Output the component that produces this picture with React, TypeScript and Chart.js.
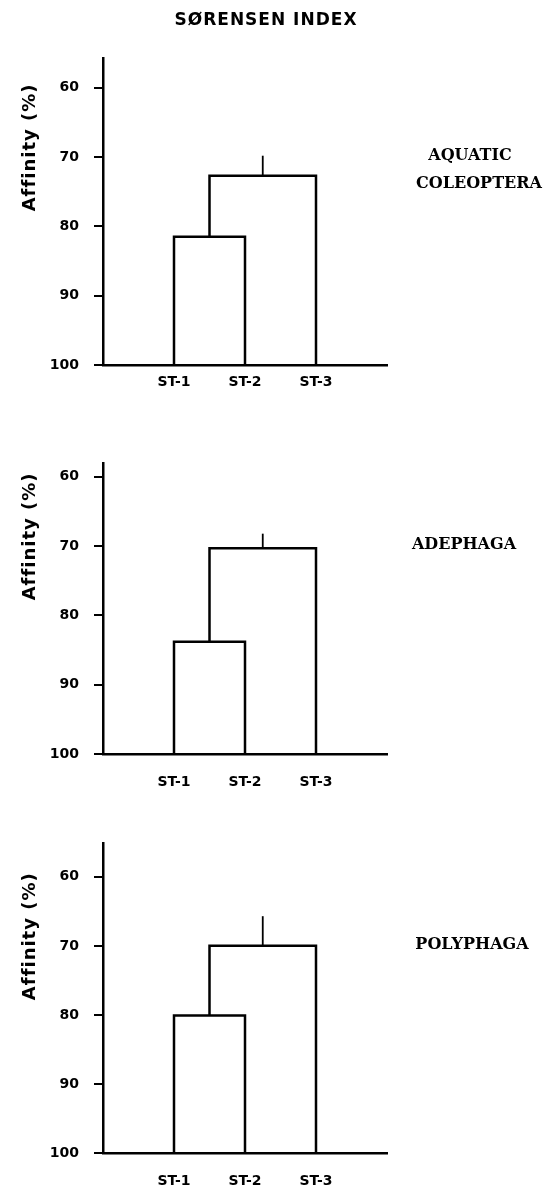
import React, { useEffect, useRef } from "react";
import { Chart, registerables } from "chart.js";

Chart.register(...registerables);

// ---- data ----
const stations = ["ST-1", "ST-2", "ST-3"];
const stationPos = [1, 2, 3];
const yTicks = [60, 70, 80, 90, 100];
const panelNames = [["AQUATIC", "COLEOPTERA"], ["ADEPHAGA"], ["POLYPHAGA"]];
const firstJoin = [81.5, 83.8, 80.1]; // ST-1 with ST-2
const secondJoin = [72.7, 70.3, 70.0]; // (ST-1,ST-2) with ST-3
const errorTop = [69.8, 68.2, 65.7]; // upper end of the deviation tick
const axisTop = [55.7, 58.0, 55.1];
const title = "SØRENSEN INDEX";
const yTitle = "Affinity (%)";

// ---- layout ----
const W = 543;
const canvasTop = [0, 399, 788];
const canvasHeight = [399, 389, 399];
const padTop = [58, 64, 55];
const xLabelPad = [1, 12, 12];
const labelCenters = [[470, 479], [464], [472]];

const textPlugin = (idx: number) => ({
  id: "texts" + idx,
  afterDraw(chart: any) {
    const ctx = chart.ctx as CanvasRenderingContext2D;
    const y = chart.scales.y;
    ctx.save();
    ctx.fillStyle = "#000";
    // y-axis title
    ctx.save();
    ctx.translate(30, y.getPixelForValue(68.6));
    ctx.rotate(-Math.PI / 2);
    ctx.font = "bold 18px 'DejaVu Sans'";
    (ctx as any).letterSpacing = "1px";
    ctx.textAlign = "center";
    ctx.textBaseline = "middle";
    ctx.fillText(yTitle, 0, 0);
    ctx.restore();
    // group label
    ctx.font = "bold 16px 'DejaVu Serif'";
    ctx.textAlign = "center";
    ctx.textBaseline = "middle";
    const ly = y.getPixelForValue(69.8);
    panelNames[idx].forEach((t, k) => {
      ctx.fillText(t, labelCenters[idx][k], ly + k * 28);
    });
    // main title
    if (idx === 0) {
      ctx.font = "bold 17px 'DejaVu Sans'";
      (ctx as any).letterSpacing = "1px";
      ctx.textAlign = "center";
      ctx.fillText(title, 266, 21);
    }
    ctx.restore();
  },
});

function Panel({ idx }: { idx: number }) {
  const ref = useRef<HTMLCanvasElement>(null);
  useEffect(() => {
    if (!ref.current) return;
    const p1 = stationPos[0];
    const p2 = stationPos[1];
    const p3 = stationPos[2];
    const mid = (p1 + p2) / 2;
    const top = (mid + p3) / 2;
    const j1 = firstJoin[idx];
    const j2 = secondJoin[idx];
    const line = {
      borderColor: "#000",
      borderWidth: 2.5,
      pointRadius: 0,
      fill: false,
      tension: 0,
      clip: false as any,
    };
    const chart = new Chart(ref.current, {
      type: "line",
      data: {
        datasets: [
          {
            ...line,
            data: [
              { x: p1, y: 100 },
              { x: p1, y: j1 },
              { x: p2, y: j1 },
              { x: p2, y: 100 },
            ],
          },
          {
            ...line,
            data: [
              { x: mid, y: j1 },
              { x: mid, y: j2 },
              { x: p3, y: j2 },
              { x: p3, y: 100 },
            ],
          },
          {
            ...line,
            borderWidth: 1.8,
            data: [
              { x: top, y: j2 },
              { x: top, y: errorTop[idx] },
            ],
          },
        ],
      },
      options: {
        animation: false,
        responsive: false,
        devicePixelRatio: 1,
        layout: { padding: { top: padTop[idx], right: 156, left: 0, bottom: 0 } },
        plugins: { legend: { display: false }, tooltip: { enabled: false } },
        scales: {
          x: {
            type: "linear",
            min: 0,
            max: 4,
            afterBuildTicks: (s: any) => {
              s.ticks = stationPos.map((v) => ({ value: v }));
            },
            afterFit: (s: any) => {
              s.height = 34;
            },
            ticks: {
              autoSkip: false,
              maxRotation: 0,
              padding: xLabelPad[idx],
              color: "#000",
              font: { family: "'DejaVu Sans'", size: 14, weight: "bold" },
              callback: (v: any) => stations[stationPos.indexOf(Number(v))] ?? "",
            },
            grid: { display: false },
            border: { display: true, color: "#000", width: 2.5 },
          },
          y: {
            type: "linear",
            reverse: true,
            min: axisTop[idx],
            max: 100,
            afterBuildTicks: (s: any) => {
              s.ticks = yTicks.map((v) => ({ value: v }));
            },
            afterFit: (s: any) => {
              s.width = 103;
            },
            ticks: {
              padding: 15,
              color: "#000",
              font: { family: "'DejaVu Sans'", size: 14, weight: "bold" },
            },
            grid: {
              drawOnChartArea: false,
              drawTicks: true,
              tickLength: 9,
              color: "#000",
              lineWidth: 2,
            },
            border: { display: true, color: "#000", width: 2.5 },
          },
        },
      } as any,
      plugins: [textPlugin(idx)],
    });
    return () => chart.destroy();
  }, [idx]);
  return (
    <canvas
      ref={ref}
      width={W}
      height={canvasHeight[idx]}
      style={{ position: "absolute", left: 0, top: canvasTop[idx], width: W, height: canvasHeight[idx] }}
    />
  );
}

export default function App() {
  return (
    <div style={{ position: "absolute", left: 0, top: 0, width: W, height: 1187, background: "#fff" }}>
      {[0, 1, 2].map((i) => (
        <Panel key={i} idx={i} />
      ))}
    </div>
  );
}
